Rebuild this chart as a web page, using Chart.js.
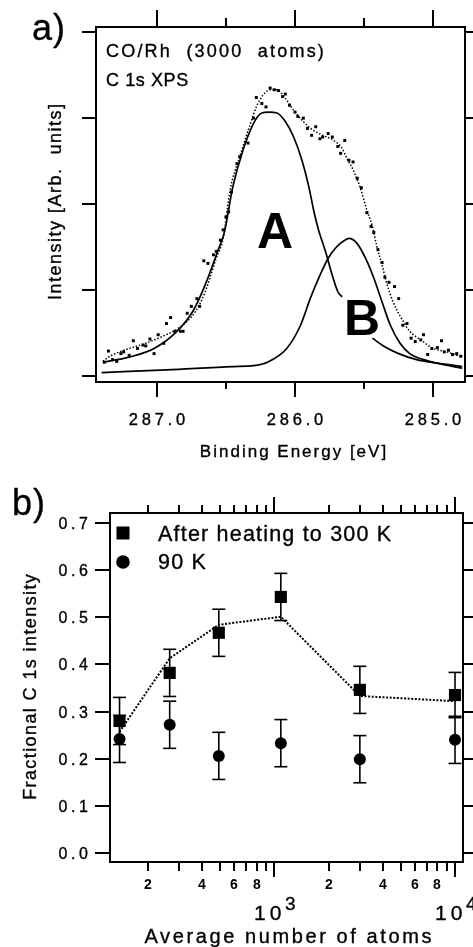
<!DOCTYPE html>
<html>
<head>
<meta charset="utf-8">
<script src="https://cdn.jsdelivr.net/npm/chart.js@4.4.1/dist/chart.umd.min.js"></script>
<style>
  html, body { margin: 0; padding: 0; background: #fff; }
  #wrap { position: relative; width: 473px; height: 947px; overflow: hidden; }
  #chartA { position: absolute; left: 0; top: 0; }
  #chartB { position: absolute; left: 0; top: 470px; }
</style>
</head>
<body>
<div id="wrap">
  <canvas id="chartA" width="473" height="470"></canvas>
  <canvas id="chartB" width="473" height="477"></canvas>
</div>
<script>
// ---- panel a: C 1s XPS spectrum ----
const spectrumE = [287.38, 287.35, 287.32, 287.29, 287.26, 287.24, 287.20, 287.17, 287.14, 287.10,
  287.08, 287.05, 287.02, 286.99, 286.95, 286.93, 286.90, 286.87, 286.83, 286.81,
  286.78, 286.75, 286.71, 286.69, 286.66, 286.63, 286.59, 286.57, 286.54, 286.52,
  286.50, 286.48, 286.46, 286.42, 286.40, 286.34, 286.30, 286.28, 286.24, 286.21,
  286.18, 286.15, 286.12, 286.09, 286.07, 286.04, 286.00, 285.98, 285.94, 285.91,
  285.88, 285.85, 285.82, 285.80, 285.76, 285.73, 285.69, 285.67, 285.64, 285.61,
  285.58, 285.55, 285.52, 285.48, 285.45, 285.43, 285.40, 285.37, 285.35, 285.32,
  285.28, 285.25, 285.22, 285.19, 285.16, 285.13, 285.09, 285.07, 285.04, 285.01,
  284.97, 284.94, 284.92, 284.89, 284.86, 284.83, 284.80];
const spectrumI = [0.16, 0.29, 0.19, 0.17, 0.26, 0.28, 0.24, 0.41, 0.32, 0.36,
  0.35, 0.43, 0.26, 0.48, 0.38, 0.61, 0.68, 0.52, 0.52, 0.52,
  0.73, 0.81, 0.90, 0.81, 1.34, 1.31, 1.41, 1.45, 1.58, 1.70,
  1.85, 1.91, 2.14, 2.47, 2.55, 2.71, 3.00, 3.24, 3.17, 3.13,
  3.35, 3.33, 3.32, 3.25, 3.28, 3.15, 3.07, 3.02, 3.00, 2.88,
  2.80, 2.90, 2.76, 2.78, 2.82, 2.78, 2.67, 2.59, 2.74, 2.51,
  2.49, 2.30, 2.19, 1.90, 1.74, 1.67, 1.47, 1.32, 1.15, 1.09,
  1.04, 0.90, 0.59, 0.61, 0.44, 0.40, 0.42, 0.48, 0.25, 0.32,
  0.33, 0.41, 0.28, 0.30, 0.25, 0.26, 0.23];

// fitted component A (gap where the "B" label sits)
const peakAE = [287.39, 287.20, 287.02, 286.86, 286.74, 286.65, 286.56, 286.51, 286.45, 286.38,
  286.30, 286.24, 286.19, 286.13, 286.07, 286.01, 285.95, 285.90, 285.86, 285.83,
  285.78, 285.73, 285.69, 285.66, 285.55, 285.44, 285.36, 285.25, 285.12, 284.97, 284.79];
const peakAI = [0.16, 0.22, 0.32, 0.51, 0.75, 1.06, 1.45, 1.68, 2.20, 2.61,
  2.94, 3.06, 3.07, 3.06, 2.96, 2.78, 2.51, 2.20, 1.89, 1.70,
  1.45, 1.17, 0.98, 0.92, null, 0.44, 0.35, 0.26, 0.19, 0.15, 0.11];

// fitted component B
const peakBE = [287.40, 286.93, 286.45, 286.30, 286.20, 286.06, 285.96, 285.89, 285.82, 285.76,
  285.70, 285.64, 285.61, 285.55, 285.49, 285.43, 285.37, 285.31, 285.24, 285.17,
  285.07, 284.95, 284.79];
const peakBI = [0.04, 0.07, 0.11, 0.12, 0.16, 0.32, 0.59, 0.90, 1.17, 1.37,
  1.50, 1.58, 1.60, 1.54, 1.37, 1.14, 0.86, 0.59, 0.38, 0.26,
  0.19, 0.14, 0.09];

// sum of components (dotted)
const envelopeE = [287.39, 287.35, 287.30, 287.20, 287.08, 286.96, 286.84, 286.72, 286.65, 286.57,
  286.52, 286.47, 286.40, 286.33, 286.28, 286.23, 286.18, 286.13, 286.07, 286.01,
  285.94, 285.87, 285.80, 285.72, 285.66, 285.63, 285.58, 285.53, 285.48, 285.44,
  285.41, 285.37, 285.34, 285.29, 285.23, 285.17, 285.09, 285.00, 284.90, 284.79];
const envelopeI = [0.17, 0.22, 0.26, 0.32, 0.38, 0.46, 0.56, 0.75, 0.98, 1.37,
  1.60, 2.16, 2.55, 2.90, 3.13, 3.27, 3.33, 3.33, 3.23, 3.09,
  2.96, 2.86, 2.80, 2.74, 2.65, 2.55, 2.40, 2.20, 1.93, 1.74,
  1.52, 1.29, 1.10, 0.86, 0.67, 0.52, 0.42, 0.32, 0.28, 0.22];

const energyTicks = [287.0, 286.5, 286.0, 285.5, 285.0];
const energyLabels = ['287.0', '', '286.0', '', '285.0'];
const intensityTicks = [0, 1, 2, 3, 4];

// ---- panel b: fractional C 1s intensity vs cluster size ----
const clusterSizes = [140, 265, 495, 1090, 2980, 10000];
const heated = [0.280, 0.382, 0.467, 0.543, 0.346, 0.335];
const heatedErr = [0.05, 0.05, 0.05, 0.05, 0.05, 0.048];
const cold = [0.242, 0.272, 0.206, 0.233, 0.199, 0.240];
const coldErr = [0.05, 0.05, 0.05, 0.05, 0.05, 0.05];
const heatedFit = [0.257, 0.413, 0.484, 0.501, 0.333, 0.322];

const sizeTicks = [200, 300, 400, 500, 600, 700, 800, 900, 1000,
  2000, 3000, 4000, 5000, 6000, 7000, 8000, 9000, 10000];
const sizeMajor = [1000, 10000];
const sizeMinorLabels = ['2', '', '4', '', '6', '', '8', '', '',
  '2', '', '4', '', '6', '', '8', '', ''];
const fracTicks = [0.0, 0.1, 0.2, 0.3, 0.4, 0.5, 0.6, 0.7];

const FONT = '"Liberation Sans", Arial, Helvetica, sans-serif';

function pts(xs, ys) {
  return xs.map((x, i) => ({ x: x, y: ys[i] }));
}

// text with letter spacing; a thin stroke gives the heavier scanned look
function put(ctx, s, x, y, size, sp, align, weight) {
  ctx.save();
  ctx.font = (weight || '') + ' ' + size + 'px ' + FONT;
  ctx.letterSpacing = sp + 'px';
  ctx.fillStyle = '#000';
  ctx.strokeStyle = '#000';
  ctx.lineWidth = 0.35;
  ctx.textAlign = 'left';
  ctx.textBaseline = 'alphabetic';
  const w = ctx.measureText(s).width - sp;
  let x0 = x;
  if (align === 'center') x0 = x - w / 2;
  if (align === 'right') x0 = x - w;
  ctx.fillText(s, x0, y);
  if (weight !== 'bold') ctx.strokeText(s, x0, y);
  ctx.restore();
}

function putV(ctx, s, cx, cy, size, sp) {
  ctx.save();
  ctx.translate(cx, cy);
  ctx.rotate(-Math.PI / 2);
  put(ctx, s, 0, 0, size, sp, 'center');
  ctx.restore();
}

function line(ctx, x1, y1, x2, y2) {
  ctx.beginPath();
  ctx.moveTo(x1, y1);
  ctx.lineTo(x2, y2);
  ctx.stroke();
}

// frame, ticks and texts for panel a
const framePlugA = {
  id: 'frameA',
  afterDraw(chart) {
    const ctx = chart.ctx, a = chart.chartArea;
    const sx = chart.scales.x, sy = chart.scales.y;
    ctx.save();
    ctx.strokeStyle = '#000';
    ctx.lineWidth = 2;
    ctx.strokeRect(a.left, a.top, a.right - a.left, a.bottom - a.top);
    intensityTicks.forEach(v => {
      const py = Math.round(sy.getPixelForValue(v));
      line(ctx, a.left - 14, py, a.left, py);
      line(ctx, a.right, py, a.right + 10, py);
    });
    energyTicks.forEach((v, i) => {
      const px = Math.round(sx.getPixelForValue(v));
      const major = energyLabels[i] !== '';
      line(ctx, px, a.bottom, px, a.bottom + (major ? 15 : 7));
      line(ctx, px, a.top, px, a.top - (major ? 17 : 9));
      if (major) put(ctx, energyLabels[i], px, 425, 16.5, 3.8, 'center');
    });
    ctx.restore();
    put(ctx, 'Binding Energy [eV]', 293, 457, 17, 2, 'center');
    putV(ctx, 'Intensity [Arb.  units]', 61, 202, 18, 1.5);
    put(ctx, 'CO/Rh  (3000  atoms)', 106, 57, 18, 2.2);
    put(ctx, 'C 1s XPS', 106, 86, 18, 0.6);
    put(ctx, 'A', 257, 248, 50, 0, 'left', 'bold');
    put(ctx, 'B', 344, 335, 50, 0, 'left', 'bold');
    put(ctx, 'a)', 32, 40, 36, 1);
  }
};

// frame, ticks, error bars, legend and texts for panel b
const framePlugB = {
  id: 'frameB',
  beforeDatasetsDraw(chart) {
    const ctx = chart.ctx;
    const sx = chart.scales.x, sy = chart.scales.y;
    ctx.save();
    ctx.strokeStyle = '#000';
    ctx.lineWidth = 1.6;
    [[heated, heatedErr], [cold, coldErr]].forEach(([vals, errs]) => {
      vals.forEach((v, i) => {
        const px = sx.getPixelForValue(clusterSizes[i]);
        const top = sy.getPixelForValue(v + errs[i]);
        const bot = sy.getPixelForValue(v - errs[i]);
        line(ctx, px, top, px, bot);
        line(ctx, px - 6.5, top, px + 6.5, top);
        line(ctx, px - 6.5, bot, px + 6.5, bot);
      });
    });
    ctx.restore();
  },
  afterDraw(chart) {
    const ctx = chart.ctx, a = chart.chartArea;
    const sx = chart.scales.x, sy = chart.scales.y;
    ctx.save();
    ctx.strokeStyle = '#000';
    ctx.lineWidth = 2;
    ctx.strokeRect(a.left, a.top, a.right - a.left, a.bottom - a.top);
    fracTicks.forEach(v => {
      const py = Math.round(sy.getPixelForValue(v));
      line(ctx, a.left - 15, py, a.left, py);
      line(ctx, a.right, py, a.right + 10, py);
      put(ctx, v.toFixed(1), 88, py + 5.5, 16, 3.6, 'right');
    });
    sizeTicks.forEach((v, i) => {
      const px = Math.round(sx.getPixelForValue(v));
      const major = sizeMajor.includes(v);
      line(ctx, px, a.bottom, px, a.bottom + (major ? 15 : 9));
      line(ctx, px, a.top, px, a.top - (major ? 16 : 8));
      if (sizeMinorLabels[i]) put(ctx, sizeMinorLabels[i], px, 419, 14, 0, 'center', 'bold');
      if (major) {
        put(ctx, '10', px - 20, 450, 21, 4);
        put(ctx, String(Math.round(Math.log10(v))), px + 11, 440, 19, 0);
      }
    });
    ctx.restore();

    // legend
    ctx.save();
    ctx.fillStyle = '#000';
    ctx.fillRect(116.5, 56.5, 13, 13);
    ctx.beginPath();
    ctx.arc(123, 92, 6.8, 0, Math.PI * 2);
    ctx.fill();
    ctx.restore();
    put(ctx, 'After heating to 300 K', 158, 71, 21.5, 1.2);
    put(ctx, '90 K', 158, 99, 21.5, 1.2);

    put(ctx, 'Average number of atoms', 288, 473, 20, 2.6, 'center');
    putV(ctx, 'Fractional C 1s intensity', 36, 217, 18, 1.4);
    put(ctx, 'b)', 12, 45, 36, 1);
  }
};

new Chart(document.getElementById('chartA'), {
  type: 'scatter',
  data: {
    datasets: [
      { data: pts(spectrumE, spectrumI), showLine: false, pointStyle: 'rect',
        pointRadius: 2.1, backgroundColor: '#000', borderWidth: 0 },
      { data: pts(peakAE, peakAI), showLine: true, spanGaps: false, borderColor: '#000',
        borderWidth: 1.7, pointRadius: 0, cubicInterpolationMode: 'monotone' },
      { data: pts(peakBE, peakBI), showLine: true, borderColor: '#000',
        borderWidth: 1.7, pointRadius: 0, cubicInterpolationMode: 'monotone' },
      { data: pts(envelopeE, envelopeI), showLine: true, borderColor: '#000',
        borderWidth: 1.5, borderDash: [1.5, 1.8], pointRadius: 0, cubicInterpolationMode: 'monotone' }
    ]
  },
  options: {
    responsive: false, animation: false, devicePixelRatio: 1, events: [],
    layout: { padding: { top: 27, right: 8, left: 0, bottom: 0 } },
    plugins: { legend: { display: false }, tooltip: { enabled: false } },
    scales: {
      x: { type: 'linear', reverse: true, min: 284.77, max: 287.44,
        grid: { display: false, drawTicks: false }, border: { display: false },
        ticks: { display: false }, afterFit: s => { s.height = 88; } },
      y: { type: 'linear', min: -0.07, max: 4.06,
        grid: { display: false, drawTicks: false }, border: { display: false },
        ticks: { display: false }, afterFit: s => { s.width = 96; } }
    }
  },
  plugins: [framePlugA]
});

new Chart(document.getElementById('chartB'), {
  type: 'scatter',
  data: {
    datasets: [
      { data: pts(clusterSizes, heatedFit), showLine: true, borderColor: '#000',
        borderWidth: 2, borderDash: [2, 1.6], pointRadius: 0 },
      { data: pts(clusterSizes, heated), showLine: false, pointStyle: 'rect',
        pointRadius: 8.6, backgroundColor: '#000', borderWidth: 0 },
      { data: pts(clusterSizes, cold), showLine: false, pointStyle: 'circle',
        pointRadius: 6, backgroundColor: '#000', borderWidth: 0 }
    ]
  },
  options: {
    responsive: false, animation: false, devicePixelRatio: 1, events: [],
    layout: { padding: { top: 43, right: 10, left: 0, bottom: 0 } },
    plugins: { legend: { display: false }, tooltip: { enabled: false } },
    scales: {
      x: { type: 'logarithmic', min: 124, max: 11070,
        grid: { display: false, drawTicks: false }, border: { display: false },
        ticks: { display: false }, afterFit: s => { s.height = 85; } },
      y: { type: 'linear', min: -0.019, max: 0.721,
        grid: { display: false, drawTicks: false }, border: { display: false },
        ticks: { display: false }, afterFit: s => { s.width = 110; } }
    }
  },
  plugins: [framePlugB]
});
</script>
</body>
</html>
